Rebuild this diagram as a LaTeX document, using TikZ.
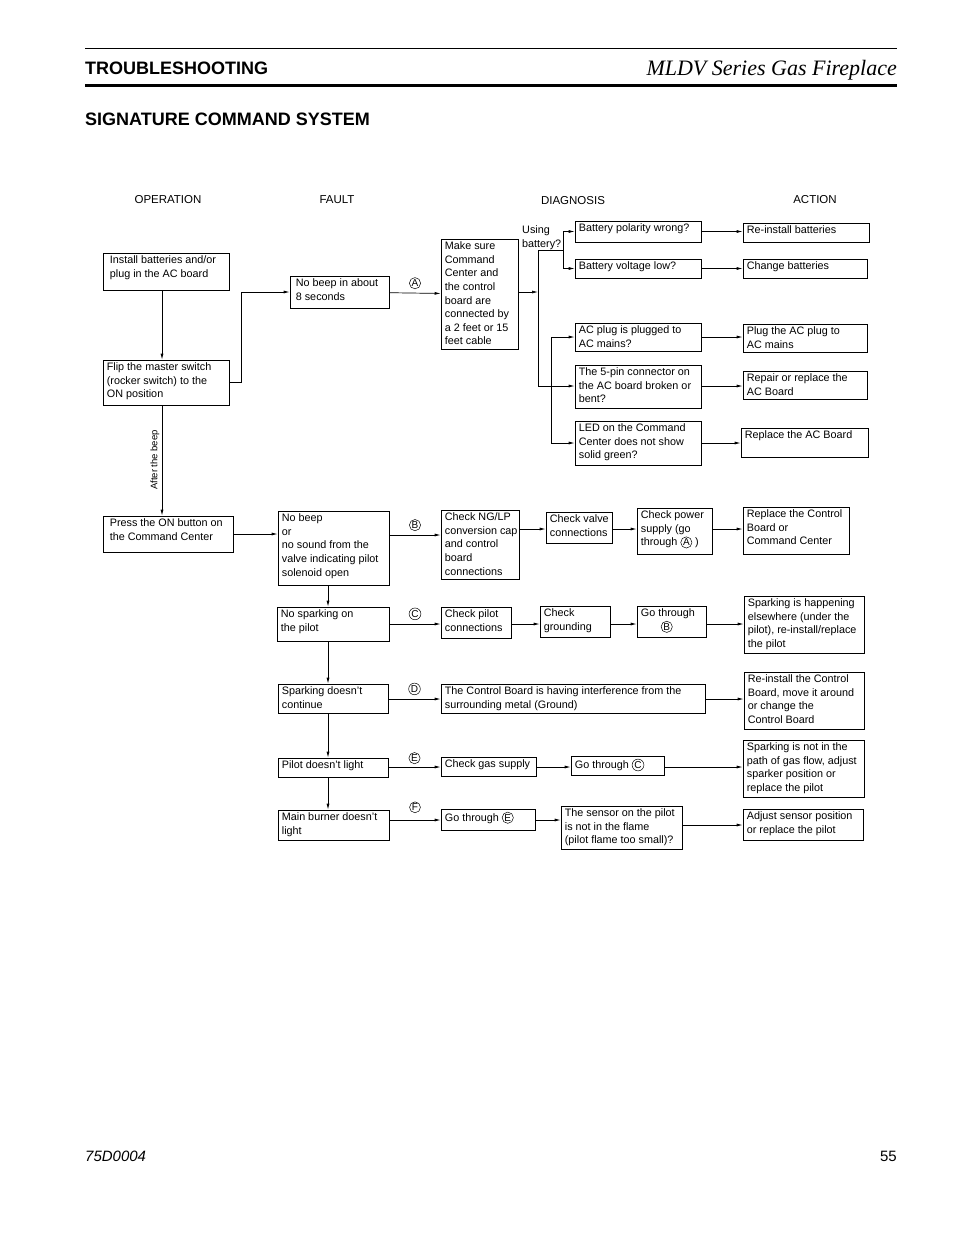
\documentclass[tikz,border=0pt]{standalone}
\usepackage{fontspec}
\setmainfont{Liberation Sans}
\newfontfamily\titlefont{Liberation Serif}
\usetikzlibrary{arrows.meta}
\tikzset{
  box/.style={draw,line width=0.7pt,inner sep=0pt},
  txt/.style={anchor=north west,inner xsep=4pt,inner ysep=3pt,align=left,
    font=\fontsize{10.8}{13.6}\selectfont},
  arr/.style={line width=0.7pt,-{Latex[length=6pt,width=3pt]}},
  ln/.style={line width=0.7pt},
  lbl/.style={circle,draw,line width=0.5pt,inner sep=0.6pt,font=\fontsize{10}{10}\selectfont},
  colhead/.style={font=\fontsize{11.5}{13}\selectfont}
}
\newcommand\cl[1]{\tikz[baseline=(c.base)]\node[lbl] (c) {#1};}
\newcommand\bx[6]{%
  \node[box,minimum width={#4pt-#2pt},minimum height={#5pt-#3pt}] (#1) at ({(#2+#4)/2},{(#3+#5)/2}) {};
  \node[txt] (#1t) at (#1.north west) {#6};}
\begin{document}
\begin{tikzpicture}[x=1pt,y=-1pt]
\useasboundingbox (0,0) rectangle (954,1235);
% header
\draw[line width=1pt] (85,48) -- (897,48);
\draw[line width=3pt] (85,85) -- (897,85);
\node[anchor=base west,inner sep=0pt,font=\bfseries\fontsize{18}{20}\selectfont] (hd) at (85,74) {TROUBLESHOOTING};
\node[anchor=base east,inner sep=0pt,font=\titlefont\itshape\fontsize{22}{24}\selectfont] (ttl) at (897,75) {MLDV Series Gas Fireplace};
\node[anchor=base west,inner sep=0pt,font=\bfseries\fontsize{18}{20}\selectfont] (sub) at (85,125) {SIGNATURE COMMAND SYSTEM};
\node[colhead] (h1) at (168,200) {OPERATION};
\node[colhead] (h2) at (337,200) {FAULT};
\node[colhead] (h3) at (573,201) {DIAGNOSIS};
\node[colhead] (h4) at (815,200) {ACTION};
% boxes
\bx{inst}{103}{253}{229}{290}{\hspace*{3pt}Install batteries and/or\\\hspace*{3pt}plug in the AC board}
\bx{flip}{103}{360}{229}{405}{Flip the master switch\\(rocker switch) to the\\ON position}
\bx{press}{103}{516}{233}{552}{\hspace*{3pt}Press the ON button on\\\hspace*{3pt}the Command Center}
\bx{nbe}{290}{276}{389}{308}{\hspace*{2pt}No beep in about\\\hspace*{2pt}8 seconds}
\bx{mks}{441}{239}{518}{349}{Make sure\\Command\\Center and\\the control\\board are\\connected by\\a 2 feet or 15\\feet cable}
\bx{bpol}{575}{221}{701}{242}{Battery polarity wrong?}
\bx{bvol}{575}{259}{701}{278}{Battery voltage low?}
\bx{acp}{575}{323}{701}{351}{AC plug is plugged to\\AC mains?}
\bx{pin}{575}{365}{701}{408}{The 5-pin connector on\\the AC board broken or\\bent?}
\bx{led}{575}{421}{701}{465}{LED on the Command\\Center does not show\\solid green?}
\bx{rib}{743}{223}{869}{242}{Re-install batteries}
\bx{chb}{743}{259}{867}{278}{Change batteries}
\bx{plg}{743}{324}{867}{352}{Plug the AC plug to\\AC mains}
\bx{rep}{743}{371}{867}{399}{Repair or replace the\\AC Board}
\bx{rac}{741}{428}{868}{457}{Replace the AC Board}
\bx{nbb}{278}{511}{389}{585}{No beep\\or\\no sound from the\\valve indicating pilot\\solenoid open}
\bx{cng}{441}{510}{519}{579}{Check NG/LP\\conversion cap\\and control\\board\\connections}
\bx{cvc}{546}{512}{612}{543}{Check valve\\connections}
\bx{cpw}{637}{508}{712}{554}{Check power\\supply (go\\through \cl{A} )}
\bx{rcb}{743}{507}{849}{554}{Replace the Control\\Board or\\Command Center}
\bx{nsp}{277}{607}{389}{641}{No sparking on\\the pilot}
\bx{cpc}{441}{607}{511}{638}{Check pilot\\connections}
\bx{cgr}{540}{606}{610}{637}{Check\\grounding}
\bx{gob}{637}{606}{706}{637}{Go through\\\hspace*{20pt}\cl{B}}
\bx{spe}{744}{596}{864}{653}{Sparking is happening\\elsewhere (under the\\pilot), re-install/replace\\the pilot}
\bx{sdc}{278}{684}{388}{713}{Sparking doesn't\\continue}
\bx{itf}{441}{684}{705}{713}{The Control Board is having interference from the\\surrounding metal (Ground)}
\bx{ric}{744}{672}{864}{729}{Re-install the Control\\Board, move it around\\or change the\\Control Board}
\bx{pdl}{278}{758}{388}{777}{Pilot doesn't light}
\bx{cgs}{441}{757}{536}{776}{Check gas supply}
\bx{goc}{571}{756}{664}{775}{Go through \cl{C}}
\bx{snp}{743}{740}{864}{797}{Sparking is not in the\\path of gas flow, adjust\\sparker position or\\replace the pilot}
\bx{mbl}{278}{810}{389}{840}{Main burner doesn't\\light}
\bx{goe}{441}{809}{535}{830}{Go through \cl{E}}
\bx{sns}{561}{806}{682}{849}{The sensor on the pilot\\is not in the flame\\(pilot flame too small)?}
\bx{adj}{743}{809}{863}{840}{Adjust sensor position\\or replace the pilot}
% operation column
\coordinate (v0) at (162,0);
\draw[arr] (inst.south -| v0) -- (flip.north -| v0);
\draw[arr] (flip.south -| v0) -- (press.north -| v0);
\node[rotate=90,font=\fontsize{9.5}{10}\selectfont] (ab) at (155,460) {After the beep};
\draw[arr] (flip.east) -- ++(12,0) |- (nbe);
\draw[arr] (nbe) -- node[lbl,above=4pt] (la) {A} (mks);
% diagnosis trunk
\coordinate (tk) at (538,292);
\draw[arr] (mks.east |- tk) -- (tk);
\draw[ln] (538,250) -- (538,386);
\draw[ln] (538,250) -- (563,250);
\node[txt,anchor=south west,inner sep=0pt] (ub) at (522,250) {Using\\battery?};
\draw[arr] (563,250) |- (bpol);
\draw[arr] (563,250) |- (bvol);
\draw[arr] (538,386) -- (pin.west |- 0,386);
\draw[arr] (551,390) |- (acp);
\draw[arr] (551,390) |- (led);
\draw[arr] (bpol) -- (rib.west |- bpol);
\draw[arr] (bvol) -- (chb.west |- bvol);
\draw[arr] (acp) -- (plg.west |- acp);
\draw[arr] (pin.east |- 0,386) -- (rep.west |- 0,386);
\draw[arr] (led.east |- 0,443) -- (rac.west |- 0,443);
% fault rows
\coordinate (v1) at (328,0);
\draw[arr] (press) -- (nbb.west |- press);
\draw[arr] (nbb.east |- 0,535) -- node[lbl,above=4pt] (lb) {B} (cng.west |- 0,535);
\draw[arr] (cng.east |- 0,529) -- (cvc.west |- 0,529);
\draw[arr] (cvc.east |- 0,529) -- (cpw.west |- 0,529);
\draw[arr] (cpw.east |- 0,529) -- (rcb.west |- 0,529);
\draw[arr] (nbb.south -| v1) -- (nsp.north -| v1);
\draw[arr] (nsp.east |- 0,624) -- node[lbl,above=4pt] (lc) {C} (cpc.west |- 0,624);
\draw[arr] (cpc.east |- 0,624) -- (cgr.west |- 0,624);
\draw[arr] (cgr.east |- 0,624) -- (gob.west |- 0,624);
\draw[arr] (gob.east |- 0,624) -- (spe.west |- 0,624);
\draw[arr] (nsp.south -| v1) -- (sdc.north -| v1);
\draw[arr] (sdc.east |- 0,699) -- node[lbl,above=4pt] (ld) {D} (itf.west |- 0,699);
\draw[arr] (itf.east |- 0,699) -- (ric.west |- 0,699);
\draw[arr] (sdc.south -| v1) -- (pdl.north -| v1);
\draw[arr] (pdl.east |- 0,767) -- node[lbl,above=3pt] (le) {E} (cgs.west |- 0,767);
\draw[arr] (cgs.east |- 0,767) -- (goc.west |- 0,767);
\draw[arr] (goc.east |- 0,767) -- (snp.west |- 0,767);
\draw[arr] (pdl.south -| v1) -- (mbl.north -| v1);
\draw[arr] (mbl.east |- 0,820) -- node[lbl,above=7pt] (lf) {F} (goe.west |- 0,820);
\draw[arr] (goe.east |- 0,820) -- (sns.west |- 0,820);
\draw[arr] (sns.east |- 0,825) -- (adj.west |- 0,825);
% footer
\node[anchor=base west,inner sep=0pt,font=\itshape\fontsize{15}{16}\selectfont] (ft) at (85,1161) {75D0004};
\node[anchor=base east,inner sep=0pt,font=\fontsize{15}{16}\selectfont] (pg) at (897,1161) {55};
\end{tikzpicture}
\end{document}
